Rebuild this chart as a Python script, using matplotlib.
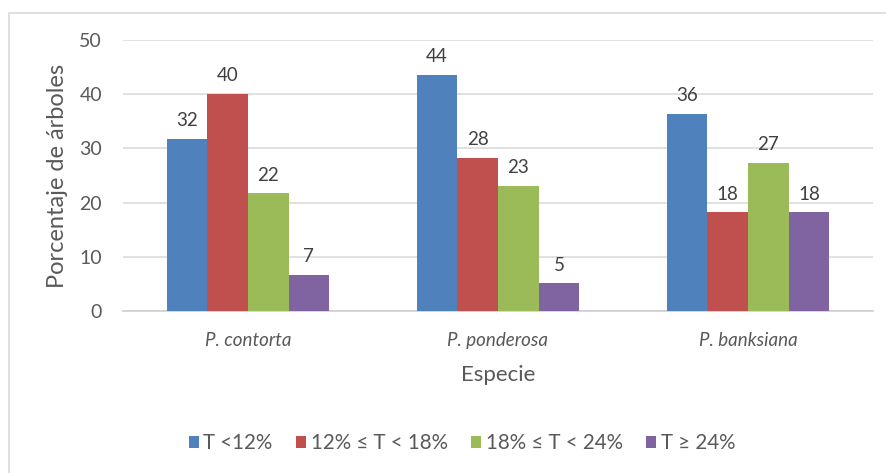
import matplotlib.pyplot as plt
import matplotlib.patches as mpatches
import numpy as np

# porcentaje de árboles por especie y clase de T
especies = ["P. contorta", "P. ponderosa", "P. banksiana"]
clases = ["T <12%", "12% ≤ T < 18%", "18% ≤ T < 24%", "T ≥ 24%"]
t_menor12 = [31.7, 43.6, 36.4]
t_12_18 = [40.0, 28.2, 18.2]
t_18_24 = [21.7, 23.1, 27.3]
t_mayor24 = [6.7, 5.1, 18.2]
series = [t_menor12, t_12_18, t_18_24, t_mayor24]
colores = ["#4f81bd", "#c0504d", "#9bbb59", "#8064a2"]

plt.rcParams['font.family'] = ['Lato', 'DejaVu Sans']
gris = "#595959"

fig = plt.figure(figsize=(8.86, 4.73), dpi=100)
ax = fig.add_axes([0.1388, 0.3425, 0.8465, 0.5729])

# marco exterior del gráfico
fig.patches.append(mpatches.Rectangle((0.010, -0.01), 1.0, 0.982, transform=fig.transFigure,
                                      fill=False, edgecolor="#d9d9d9", linewidth=1.2))

x = np.arange(len(especies))
ancho = 0.65 / 4
for i, (vals, color, nombre) in enumerate(zip(series, colores, clases)):
    pos = x - 0.325 + ancho * (i + 0.5)
    barras = ax.bar(pos, vals, ancho, color=color, label=nombre, zorder=3)
    for b, v in zip(barras, vals):
        ax.annotate(f"{v:.0f}", (b.get_x() + b.get_width() / 2, v), xytext=(0, 7),
                    textcoords="offset points", ha="center", va="bottom",
                    fontsize=13.5, color="#404040")

ax.set_xlim(-0.5, 2.5)
ax.set_ylim(0, 50)
ax.set_yticks(range(0, 51, 10))
ax.set_xticks(x)
ax.set_xticklabels(especies, fontstyle="italic", fontsize=13.5)
ax.yaxis.grid(True, color="#d9d9d9", linewidth=1.1, zorder=0)
for lado in ["top", "right", "left"]:
    ax.spines[lado].set_visible(False)
ax.spines["bottom"].set_color("#d0d0d0")
ax.spines["bottom"].set_linewidth(1.2)
ax.tick_params(length=0, colors=gris)
ax.tick_params(axis="y", pad=15, labelsize=14)
ax.tick_params(axis="x", pad=15)

ax.set_ylabel("Porcentaje de árboles", fontsize=17, color=gris, labelpad=8)
ax.set_xlabel("Especie", fontsize=16, color=gris, labelpad=12)

ax.legend(loc="center", bbox_to_anchor=(0.452, -0.487), ncol=4, frameon=False,
          fontsize=14.8, labelcolor=gris, handlelength=0.5, handleheight=0.5,
          handletextpad=0.2, columnspacing=1.15)

fig.savefig("out.png", dpi=100)
